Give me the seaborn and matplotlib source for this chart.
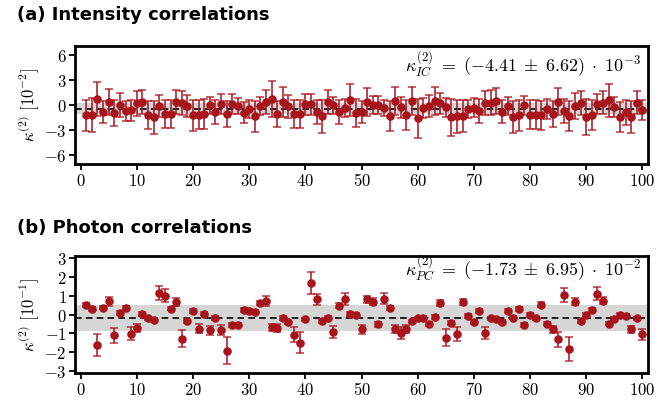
import numpy as np
import pandas as pd
import matplotlib
matplotlib.use("Agg")
import matplotlib.pyplot as plt
from matplotlib.ticker import FuncFormatter, MultipleLocator
import seaborn as sns

# ---------------- data ----------------
index = list(range(1, 101))

ic_values = [
    -1.24, -1.2, 0.72, -0.84, 0.32, -1.0, 0.0, -0.72, -0.64, 0.2,
    0.36, -1.24, -1.48, -0.12, -1.08, -1.08, 0.36, 0.24, -0.12, -1.24,
    -1.16, -1.08, -0.04, -0.84, 0.08, -1.08, 0.08, -0.12, -0.92, -0.48,
    -1.36, -0.12, 0.32, 0.68, -1.12, 0.36, -0.16, -1.04, -1.12, 0.08,
    0.08, -0.84, -1.36, 0.32, -0.04, -0.84, -0.32, 0.6, -1.0, -0.84,
    0.36, -0.04, -0.04, -0.36, -1.32, 0.48, -0.28, -1.2, 0.52, -1.6,
    -0.4, -0.12, 0.52, 0.2, -0.28, -1.48, -1.36, -1.32, -0.48, -0.32,
    -0.72, 0.28, 0.28, 0.48, -0.8, -0.08, -1.44, -1.24, -0.04, -1.16,
    -1.16, -1.24, -0.48, -1.04, 0.4, -0.72, -1.32, -0.12, 0.24, -1.4,
    -1.24, 0.08, 0.28, 0.56, -0.2, -1.4, -0.88, -1.44, 0.28, -0.6,
]
ic_errors = [
    1.9, 2.0, 2.1, 1.3, 1.55, 1.55, 1.4, 1.2, 1.25, 1.5,
    1.5, 1.7, 2.0, 1.3, 1.7, 1.7, 1.45, 1.45, 1.3, 1.9,
    1.75, 1.75, 1.05, 1.4, 1.2, 1.55, 1.2, 1.0, 1.3, 1.1,
    1.85, 1.1, 1.45, 2.15, 1.55, 1.75, 1.35, 1.7, 1.7, 1.3,
    1.3, 1.45, 1.95, 1.45, 1.0, 1.45, 1.1, 1.9, 1.7, 1.3,
    1.7, 1.1, 1.1, 1.0, 1.75, 1.7, 1.3, 1.75, 1.7, 2.35,
    1.2, 1.3, 1.7, 1.3, 1.15, 2.2, 1.95, 1.95, 1.1, 1.15,
    1.4, 1.45, 1.5, 1.55, 1.35, 1.1, 1.95, 1.85, 1.15, 1.75,
    1.75, 1.75, 1.2, 1.55, 1.6, 1.45, 1.8, 1.55, 1.45, 2.15,
    1.8, 1.2, 1.35, 1.95, 1.2, 1.8, 1.5, 1.95, 1.35, 1.15,
]
ic_mean, ic_std = -0.441, 0.662          # units of 1e-2

pc_values = [
    0.49, 0.28, -1.62, 0.37, 0.71, -1.11, 0.07, 0.35, -1.02, -0.72,
    0.02, -0.21, -0.30, 1.13, 1.0, 0.32, 0.67, -1.29, -0.37, 0.19,
    -0.76, 0.05, -0.85, -0.19, -0.83, -1.92, -0.56, -0.55, 0.25, 0.19,
    0.12, 0.62, 0.72, -0.69, -0.71, -0.18, -0.42, -1.09, -1.5, -0.26,
    1.68, 0.81, -0.34, -0.19, -0.92, 0.48, 0.83, 0.04, -0.02, -0.79,
    0.81, 0.69, -0.53, 0.85, 0.34, -0.76, -1.0, -0.76, -0.37, -0.21,
    -0.19, -0.51, -0.12, 0.62, -1.23, -0.44, -1.04, 0.67, -0.09, -0.39,
    0.19, -0.99, -0.21, -0.26, -0.41, 0.18, -0.16, 0.28, -0.55, -0.02,
    -0.21, 0.53, -0.48, -0.79, -1.32, 1.04, -1.85, 0.69, -0.35, -0.02,
    0.26, 1.11, 0.74, -0.48, -0.23, -0.02, -0.09, -0.79, -0.21, -1.06,
]
pc_errors = [
    0.1, 0.1, 0.58, 0.1, 0.23, 0.39, 0.1, 0.1, 0.36, 0.22,
    0.1, 0.1, 0.1, 0.37, 0.35, 0.1, 0.22, 0.45, 0.1, 0.1,
    0.23, 0.1, 0.24, 0.1, 0.25, 0.7, 0.12, 0.12, 0.1, 0.1,
    0.1, 0.12, 0.25, 0.2, 0.2, 0.1, 0.1, 0.4, 0.55, 0.1,
    0.61, 0.3, 0.1, 0.1, 0.33, 0.12, 0.32, 0.1, 0.1, 0.25,
    0.2, 0.2, 0.12, 0.29, 0.1, 0.2, 0.31, 0.2, 0.1, 0.1,
    0.1, 0.12, 0.1, 0.18, 0.44, 0.1, 0.36, 0.18, 0.1, 0.1,
    0.1, 0.34, 0.1, 0.1, 0.1, 0.1, 0.1, 0.1, 0.12, 0.1,
    0.1, 0.12, 0.1, 0.2, 0.41, 0.36, 0.64, 0.18, 0.1, 0.1,
    0.1, 0.35, 0.2, 0.1, 0.1, 0.1, 0.1, 0.2, 0.1, 0.28,
]
pc_mean, pc_std = -0.173, 0.695          # units of 1e-1

x_ticks = list(range(0, 101, 10))

# ---------------- style ----------------
sns.set_theme(style="ticks")
plt.rcParams["font.family"] = ["DejaVu Sans"]
plt.rcParams["mathtext.fontset"] = "cm"
plt.rcParams["text.color"] = "black"
plt.rcParams["axes.labelcolor"] = "black"

RED = "#a8141c"

fig = plt.figure(figsize=(6.58, 4.05), dpi=100)
W, H = 658, 405
ax1 = fig.add_axes([75 / W, 1 - 164 / H, 573 / W, 118 / H])
ax2 = fig.add_axes([75 / W, 1 - 373 / H, 573 / W, 117 / H])

sf = FuncFormatter(lambda v, p: r"$\mathsf{%g}$" % v)


def draw(ax, vals, errs, mean, std, ylim, ystep, ylabel, annot, ybase):
    df = pd.DataFrame({"i": index, "v": vals, "e": errs})
    ax.axhspan(mean - std, mean + std, color="#d6d6d6", lw=0, zorder=0)
    ax.axhline(mean, color="black", ls=(0, (4, 2.5)), lw=1.2, zorder=1)
    ax.errorbar(df["i"], df["v"], yerr=df["e"], fmt="none", ecolor=RED,
                elinewidth=1.3, capsize=3, capthick=1.1, alpha=0.85, zorder=2)
    sns.scatterplot(data=df, x="i", y="v", ax=ax, color=RED, s=38,
                    edgecolor=RED, linewidth=0, zorder=3, legend=False)
    ax.set_xlim(-1, 101)
    ax.set_ylim(-ylim, ylim)
    ax.set_xticks(x_ticks)
    ax.yaxis.set_major_locator(MultipleLocator(ystep))
    ax.xaxis.set_major_formatter(sf)
    ax.yaxis.set_major_formatter(sf)
    ax.tick_params(direction="out", length=4, width=1.3, labelsize=12,
                   colors="black", pad=2)
    for s in ax.spines.values():
        s.set_linewidth(2.0)
        s.set_color("black")
    ax.set_xlabel("")
    ax.set_ylabel(ylabel, fontsize=12, labelpad=2)
    ax.text(0.988, ybase, annot, transform=ax.transAxes, ha="right",
            va="baseline", fontsize=13, color="black")


draw(ax1, ic_values, ic_errors, ic_mean, ic_std, 7.1, 3,
     r"$\kappa^{(2)}\ [10^{-2}]$",
     r"$\kappa^{(2)}_{IC}\;=\;(-4.41\;\pm\;6.62)\;\cdot\;10^{-3}$", 0.78)
draw(ax2, pc_values, pc_errors, pc_mean, pc_std, 3.12, 1,
     r"$\kappa^{(2)}\ [10^{-1}]$",
     r"$\kappa^{(2)}_{PC}\;=\;(-1.73\;\pm\;6.95)\;\cdot\;10^{-2}$", 0.83)

fig.text(17 / W, 1 - 15 / H, "(a) Intensity correlations", fontsize=13,
         fontweight="bold", va="center", ha="left", color="black")
fig.text(17 / W, 1 - 228 / H, "(b) Photon correlations", fontsize=13,
         fontweight="bold", va="center", ha="left", color="black")

fig.savefig("out.png", dpi=100)
